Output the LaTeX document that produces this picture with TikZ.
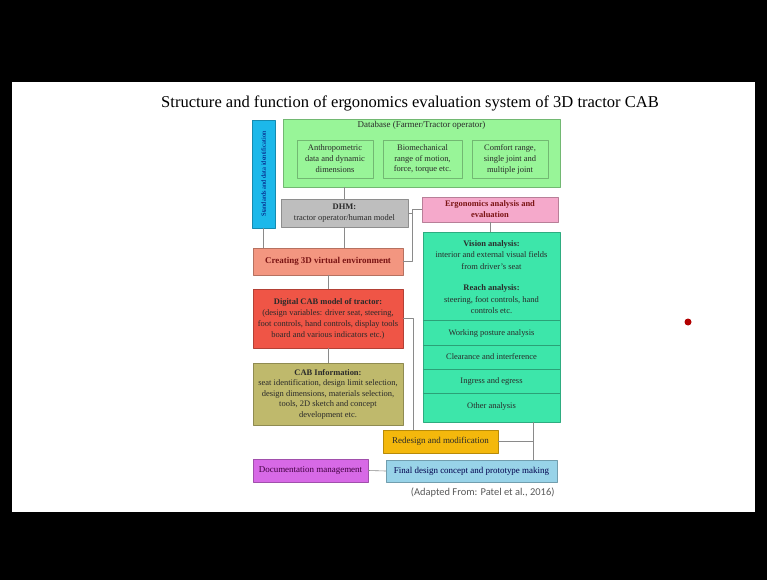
\documentclass[tikz,border=0pt]{standalone}
\usepackage{fontspec}
\setmainfont{Liberation Serif}
\newfontfamily\capfont{Carlito}
\usetikzlibrary{positioning}
\definecolor{dbgreen}{HTML}{98F598}
\definecolor{barblue}{HTML}{1CB8EA}
\definecolor{dhmgray}{HTML}{BEBEBE}
\definecolor{ergpink}{HTML}{F5A9CB}
\definecolor{envsalmon}{HTML}{F39680}
\definecolor{cabred}{HTML}{EF5546}
\definecolor{infoolive}{HTML}{BFB96C}
\definecolor{anateal}{HTML}{3DE6AA}
\definecolor{redorange}{HTML}{F4B80C}
\definecolor{finalblue}{HTML}{98D3E8}
\definecolor{docmagenta}{HTML}{D769E6}
\definecolor{linkgray}{HTML}{8A8A8A}
\definecolor{txtdark}{HTML}{2A2A2A}
\definecolor{txtred}{HTML}{7A1414}
\begin{document}
\begin{tikzpicture}[x=1bp,y=-1bp,line join=bevel,
  box/.style={draw=#1!75!black,fill=#1,line width=0.4bp,inner sep=0pt,
    align=center,text=txtdark,font=\fontsize{8.5}{11}\selectfont},
  link/.style={draw=linkgray,line width=0.6bp},
  sect/.style={align=center,text=txtdark,font=\fontsize{8.5}{11.5}\selectfont},
]
%%
\fill[black] (0,0) rectangle (767,580);
\fill[white] (12,82) rectangle (755,512);
\useasboundingbox (0,0) rectangle (767,580);
  % Title
  \node (title) at (410,103) {\fontsize{16.6}{18}\selectfont Structure and function of ergonomics evaluation system of 3D tractor CAB};
  % Node: standards bar
  \node[box=barblue,minimum width=23bp,minimum height=108bp] (bar) at (263.5,174) {};
  \node[rotate=90,text=blue!45!black,font=\fontsize{6.5}{7}\selectfont] (bartext) at (bar.center) {Standards and data identification};
  % Node: Database
  \node[box=dbgreen,minimum width=277bp,minimum height=68bp] (db) at (421.5,153) {};
  \node[sect,font=\fontsize{9}{11}\selectfont] (dbtitle) at (421.5,125.5) {Database (Farmer/Tractor operator)};
  \node[box=dbgreen,minimum width=76bp,minimum height=38bp] (dbA) at (335,159) {Anthropometric\\data and dynamic\\dimensions};
  \node[box=dbgreen,minimum width=79bp,minimum height=38bp] (dbB) at (422.5,159) {Biomechanical\\range of motion,\\force, torque etc.};
  \node[box=dbgreen,minimum width=76bp,minimum height=38bp] (dbC) at (510,159) {Comfort range,\\single joint and\\multiple joint};
  % Node: DHM
  \node[box=dhmgray,minimum width=127bp,minimum height=28bp] (dhm) at (344.5,213) {\textbf{DHM:}\\tractor operator/human model};
  % Node: Ergonomics analysis
  \node[box=ergpink,minimum width=136bp,minimum height=25bp,text=txtred] (erg) at (490,209.5) {\textbf{Ergonomics analysis and}\\\textbf{evaluation}};
  % Node: virtual environment
  \node[box=envsalmon,minimum width=150bp,minimum height=27bp,text=txtred,font=\fontsize{9}{11}\selectfont] (venv) at (328,261.5) {\textbf{Creating 3D virtual environment}};
  % Node: Digital CAB model
  \node[box=cabred,minimum width=150bp,minimum height=59bp] (cab) at (328,318.5) {\textbf{Digital CAB model of tractor:}\\(design variables: driver seat, steering,\\foot controls, hand controls, display tools\\board and various indicators etc.)};
  % Node: CAB information
  \node[box=infoolive,minimum width=150bp,minimum height=62bp,font=\fontsize{8.5}{10.5}\selectfont] (info) at (328,394) {\textbf{CAB Information:}\\seat identification, design limit selection,\\design dimensions, materials selection,\\tools, 2D sketch and concept\\development etc.};
  % Node: analysis
  \node[box=anateal,minimum width=137bp,minimum height=190bp] (ana) at (491.5,327) {};
  \foreach \yy in {320,345,369,393}
    \draw[anateal!70!black,line width=0.3bp] (ana.west |- 0,\yy) -- (ana.east |- 0,\yy);
  \node[sect] (vision) at (491.5,255) {\textbf{Vision analysis:}\\interior and external visual fields\\from driver's seat};
  \node[sect] (reach) at (491.5,299.5) {\textbf{Reach analysis:}\\steering, foot controls, hand\\controls etc.};
  \node[sect] (posture) at (491.5,333) {Working posture analysis};
  \node[sect] (clear) at (491.5,357) {Clearance and interference};
  \node[sect] (ingress) at (491.5,381) {Ingress and egress};
  \node[sect] (other) at (491.5,406) {Other analysis};
  % Node: Redesign
  \node[box=redorange,minimum width=115bp,minimum height=23bp,font=\fontsize{9}{11}\selectfont] (redesign) at (440.5,441.5) {Redesign and modification};
  % Node: Final design
  \node[box=finalblue,minimum width=171bp,minimum height=22bp,text=blue!30!black,font=\fontsize{9}{11}\selectfont] (final) at (471.5,471) {Final design concept and prototype making};
  % Node: Documentation
  \node[box=docmagenta,minimum width=115bp,minimum height=23bp,text=violet!50!black,font=\fontsize{9}{11}\selectfont] (doc) at (310.5,470.5) {Documentation management};
  % Caption and mark
  \node[anchor=east,text=black!65,font=\capfont\fontsize{10.5}{12}\selectfont] (source) at (558,493) {(Adapted From: Patel et al., 2016)};
  \fill[red!70!black] (688,322) circle (3.5bp);
%%
  \coordinate (jEnv) at (412,209.5);
  \coordinate (jCab) at (413,318.5);
  \coordinate (jFin) at (533,441.5);
  % Edge: Database -> DHM
  \draw[link] (dhm.north) -- (dhm.north |- db.south);
  % Edge: DHM -> virtual environment
  \draw[link] (dhm.south) -- (dhm.south |- venv.north);
  % Edge: bar -> virtual environment
  \draw[link] (bar.south) -- (bar.south |- venv.north);
  % Edge: Ergonomics analysis -> virtual environment
  \draw[link] (erg.west) -- (jEnv) |- (venv.east);
  \draw[link] (dhm.east) -- (dhm.east -| jEnv);
  % Edge: virtual environment -> CAB model -> CAB information
  \draw[link] (venv.south) -- (cab.north);
  \draw[link] (cab.south) -- (info.north);
  % Edge: CAB model -> Redesign
  \draw[link] (cab.east) -- (jCab) -- (jCab |- redesign.north);
  % Edge: Ergonomics analysis -> analysis
  \draw[link] (erg.south) -- (erg.south |- ana.north);
  % Edge: analysis -> Final design, Redesign
  \draw[link] (jFin |- ana.south) -- (jFin |- final.north);
  \draw[link] (redesign.east) -- (jFin);
  % Edge: Documentation -> Final design
  \draw[link] (doc.east) -- (final.west);
%
\end{tikzpicture}
\end{document}
